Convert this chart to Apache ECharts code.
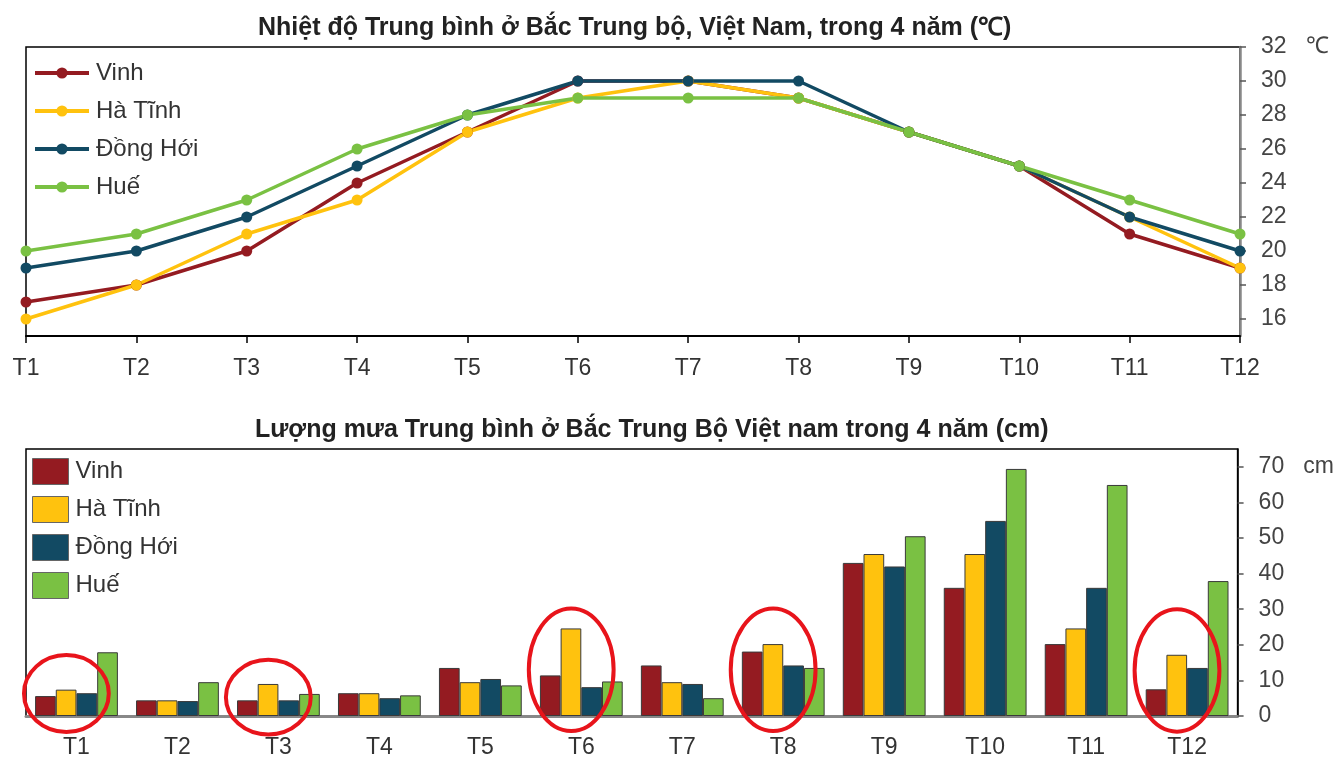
<!DOCTYPE html>
<html>
<head>
<meta charset="utf-8">
<script src="https://cdn.jsdelivr.net/npm/echarts@6/dist/echarts.min.js"></script>
<style>
  html, body { margin: 0; padding: 0; background: #fff; }
  #chart { width: 1337px; height: 759px; }
</style>
</head>
<body>
<div id="chart"></div>
<script>
// Months and stations
const months = ['T1','T2','T3','T4','T5','T6','T7','T8','T9','T10','T11','T12'];
const stations = ['Vinh', 'Hà Tĩnh', 'Đồng Hới', 'Huế'];

// Average temperature (°C)
const tempVinh    = [17, 18, 20, 24, 27, 30, 30, 29, 27, 25, 21, 19];
const tempHaTinh  = [16, 18, 21, 23, 27, 29, 30, 29, 27, 25, 22, 19];
const tempDongHoi = [19, 20, 22, 25, 28, 30, 30, 30, 27, 25, 22, 20];
const tempHue     = [20, 21, 23, 26, 28, 29, 29, 29, 27, 25, 23, 21];

// Average rainfall (cm)
const rainVinh    = [5.6, 4.4, 4.4, 6.4, 13.5, 11.4, 14.2, 18.1, 43, 36, 20.2, 7.5];
const rainHaTinh  = [7.4, 4.4, 9.0, 6.4, 9.5, 24.6, 9.5, 20.2, 45.5, 45.5, 24.6, 17.2];
const rainDongHoi = [6.4, 4.2, 4.4, 5.0, 10.4, 8.1, 9.0, 14.2, 42, 54.8, 36, 13.5];
const rainHue     = [17.9, 9.5, 6.2, 5.8, 8.6, 9.7, 5.0, 13.5, 50.5, 69.4, 64.9, 37.9];

// Tick labels
const tempTicks = [16, 18, 20, 22, 24, 26, 28, 30, 32];
const rainTicks = [0, 10, 20, 30, 40, 50, 60, 70];

// Highlighted months on the rainfall chart (centre and half-height in cm)
const ringMonths  = ['T1', 'T3', 'T6', 'T8', 'T12'];
const ringCenters = [6.3, 5.3, 13, 13, 12.8];
const ringHalf    = [10.8, 10.5, 17.2, 17.2, 17.2];

const colors = ['#941B21', '#FFC20E', '#124A63', '#7AC143'];
const tempSeries = [tempVinh, tempHaTinh, tempDongHoi, tempHue];
const rainSeries = [rainVinh, rainHaTinh, rainDongHoi, rainHue];

const FONT = '"Liberation Sans", Arial, sans-serif';
const chart = echarts.init(document.getElementById('chart'), null, { renderer: 'canvas' });

const option = {
  animation: false,
  textStyle: { fontFamily: FONT },
  title: [
    {
      text: 'Nhiệt độ Trung bình ở Bắc Trung bộ, Việt Nam, trong 4 năm (℃)',
      left: 253, top: 11,
      textStyle: { fontSize: 25, fontWeight: 'bold', color: '#222', fontFamily: FONT }
    },
    {
      text: 'Lượng mưa Trung bình ở Bắc Trung Bộ Việt nam trong 4 năm (cm)',
      left: 250, top: 413,
      textStyle: { fontSize: 25, fontWeight: 'bold', color: '#222', fontFamily: FONT }
    }
  ],
  legend: [
    {
      data: stations, orient: 'vertical', left: 33, top: 60, padding: 0,
      itemWidth: 54, itemHeight: 14, itemGap: 12,
      lineStyle: { width: 4 },
      textStyle: { fontSize: 24, color: '#333', lineHeight: 26, padding: [0, 0, 0, 2], fontFamily: FONT },
      seriesIndex: [0, 1, 2, 3]
    },
    {
      data: stations.map(s => ({ name: s, icon: 'rect' })),
      orient: 'vertical', left: 32, top: 458, padding: 0,
      itemWidth: 36, itemHeight: 26, itemGap: 11,
      textStyle: { fontSize: 24, color: '#333', lineHeight: 26, padding: [0, 0, 0, 2], fontFamily: FONT },
      itemStyle: { borderColor: '#666', borderWidth: 1 }
    }
  ],
  grid: [
    { left: 26, right: 97, top: 47, bottom: 423, show: true, borderColor: '#000', borderWidth: 1.5 },
    { left: 26, right: 99, top: 449, bottom: 40, show: true, borderColor: '#000', borderWidth: 1.5 }
  ],
  xAxis: [
    {
      gridIndex: 0, type: 'category', data: months, boundaryGap: false,
      axisLine: { lineStyle: { color: '#000', width: 2 } },
      axisTick: { show: true, length: 7, lineStyle: { color: '#000', width: 1.5 } },
      axisLabel: { fontSize: 23, color: '#333', margin: 21, fontFamily: FONT }
    },
    {
      gridIndex: 1, type: 'category', data: months,
      axisLine: { lineStyle: { color: '#888', width: 3 } },
      axisTick: { show: false },
      axisLabel: { fontSize: 23, color: '#333', margin: 20, fontFamily: FONT }
    }
  ],
  yAxis: [
    {
      gridIndex: 0, type: 'value', position: 'right', min: 15, max: 32,
      splitLine: { show: false },
      axisLine: { show: true, lineStyle: { color: '#888', width: 2.5 } },
      axisTick: { show: true, length: 6, customValues: tempTicks, lineStyle: { color: '#555', width: 1.5 } },
      axisLabel: {
        fontSize: 23, color: '#444', margin: 21, customValues: tempTicks, fontFamily: FONT,
        formatter: v => v === 32 ? '32   ℃' : String(v)
      }
    },
    {
      gridIndex: 1, type: 'value', position: 'right', min: 0, max: 75,
      splitLine: { show: false },
      axisLine: { show: true, lineStyle: { color: '#000', width: 1.5 } },
      axisTick: { show: true, length: 6, customValues: rainTicks, lineStyle: { color: '#555', width: 1.5 } },
      axisLabel: {
        fontSize: 23, color: '#444', margin: 21, customValues: rainTicks, fontFamily: FONT,
        formatter: v => v === 70 ? '70   cm' : String(v)
      }
    }
  ],
  series: [
    ...tempSeries.map((d, i) => ({
      name: stations[i], type: 'line', xAxisIndex: 0, yAxisIndex: 0, data: d,
      symbol: 'circle', symbolSize: 11,
      lineStyle: { color: colors[i], width: 3.5 },
      itemStyle: { color: colors[i] }
    })),
    ...rainSeries.map((d, i) => ({
      name: stations[i], type: 'bar', xAxisIndex: 1, yAxisIndex: 1, data: d,
      barGap: '0%', barCategoryGap: '18%',
      itemStyle: { color: colors[i], borderColor: '#3a3a3a', borderWidth: 1 }
    }))
  ]
};
chart.setOption(option);

// Red rings around the highlighted months, placed from the bar axes
function drawRings() {
  const band = chart.convertToPixel({ xAxisIndex: 1 }, 'T2') - chart.convertToPixel({ xAxisIndex: 1 }, 'T1');
  const zero = chart.convertToPixel({ yAxisIndex: 1 }, 0);
  const unit = zero - chart.convertToPixel({ yAxisIndex: 1 }, 1);
  const elements = ringMonths.map((m, i) => ({
    type: 'ellipse',
    shape: {
      cx: chart.convertToPixel({ xAxisIndex: 1 }, m) - band * 0.1,
      cy: chart.convertToPixel({ yAxisIndex: 1 }, ringCenters[i]),
      rx: band * 0.42,
      ry: ringHalf[i] * unit
    },
    style: { fill: 'none', stroke: '#E8141B', lineWidth: 4 },
    z: 100
  }));
  chart.setOption({ graphic: elements });
}
drawRings();
</script>
</body>
</html>
